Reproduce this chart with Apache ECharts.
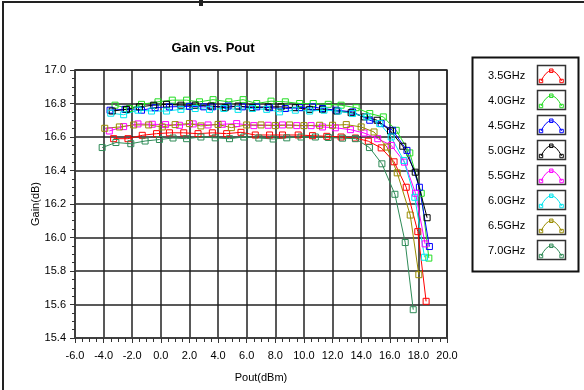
<!DOCTYPE html>
<html>
<head>
<meta charset="utf-8">
<script src="https://cdn.jsdelivr.net/npm/echarts/dist/echarts.min.js"></script>
<style>
html,body{margin:0;padding:0;background:#fff;}
#c{width:584px;height:390px;}
</style>
</head>
<body>
<div id="c"></div>
<script>
var seriesNames = ['3.5GHz','4.0GHz','4.5GHz','5.0GHz','5.5GHz','6.0GHz','6.5GHz','7.0GHz'];
var seriesColors = ['#ff0000','#22dd22','#0000ff','#000000','#ff00ff','#00e5ee','#9a8c00','#2e8b57'];
var xTicks = [-6,-4,-2,0,2,4,6,8,10,12,14,16,18,20];
var yTicks = [15.4,15.6,15.8,16.0,16.2,16.4,16.6,16.8,17.0];

var g35 = [[-3.3,16.59],[-2.3,16.59],[-1.3,16.61],[-0.3,16.62],[0.6,16.625],[1.6,16.625],[2.6,16.62],[3.6,16.625],[4.6,16.62],[5.6,16.628],[6.6,16.612],[7.6,16.612],[8.5,16.612],[9.6,16.612],[10.6,16.608],[11.6,16.604],[12.6,16.6],[13.6,16.594],[14.5,16.575],[15.4,16.535],[16.3,16.452],[17.15,16.30],[17.96,16.035],[18.54,15.619]];
var g40 = [[-3.2,16.79],[-2.2,16.77],[-1.35,16.795],[-0.2,16.81],[0.8,16.82],[1.8,16.82],[2.7,16.81],[3.65,16.823],[4.75,16.81],[5.75,16.823],[6.7,16.80],[7.7,16.814],[8.7,16.81],[9.7,16.80],[10.65,16.80],[11.7,16.795],[12.6,16.79],[13.65,16.775],[14.6,16.74],[15.55,16.72],[16.45,16.64],[17.4,16.505],[18.2,16.264],[18.73,15.877]];
var g45 = [[-3.55,16.76],[-2.5,16.765],[-1.35,16.76],[-0.4,16.775],[0.6,16.78],[2.0,16.783],[3.0,16.78],[3.6,16.78],[4.7,16.785],[5.7,16.78],[6.7,16.78],[7.6,16.775],[8.7,16.77],[9.7,16.775],[10.6,16.78],[11.3,16.77],[12.25,16.76],[13.4,16.75],[14.6,16.70],[15.4,16.68],[16.2,16.64],[17.2,16.52],[18.07,16.30],[18.77,15.946]];
var g50 = [[-3.4,16.755],[-2.4,16.765],[-1.5,16.78],[-0.5,16.79],[0.4,16.795],[1.4,16.79],[2.4,16.79],[3.5,16.785],[4.5,16.775],[5.4,16.785],[6.4,16.775],[7.5,16.78],[8.4,16.78],[9.4,16.775],[10.4,16.765],[11.3,16.765],[12.3,16.755],[13.3,16.745],[14.24,16.72],[15.12,16.70],[16.05,16.636],[16.91,16.545],[17.78,16.39],[18.61,16.118]];
var g55 = [[-3.6,16.636],[-2.6,16.662],[-1.6,16.678],[-0.6,16.676],[0.33,16.674],[1.3,16.67],[2.26,16.678],[3.3,16.672],[4.3,16.676],[5.3,16.68],[6.5,16.668],[7.5,16.67],[8.5,16.672],[9.5,16.668],[10.5,16.668],[11.3,16.66],[12.2,16.655],[13.25,16.644],[14.2,16.624],[15.16,16.59],[16.1,16.55],[17.03,16.45],[17.8,16.264],[18.47,15.962]];
var g60 = [[-3.5,16.742],[-2.6,16.733],[-1.6,16.76],[-0.65,16.755],[0.4,16.755],[1.4,16.765],[2.4,16.77],[3.4,16.765],[4.4,16.77],[5.4,16.765],[6.4,16.77],[7.4,16.765],[8.3,16.75],[9.4,16.76],[10.4,16.755],[11.4,16.76],[12.4,16.755],[13.4,16.74],[14.4,16.72],[15.3,16.68],[16.1,16.6],[16.98,16.46],[17.75,16.24],[18.43,15.882]];
var g65 = [[-3.92,16.652],[-2.9,16.66],[-1.9,16.672],[-0.85,16.672],[0.1,16.66],[1.0,16.674],[2.0,16.68],[2.8,16.666],[4.0,16.675],[4.93,16.656],[6.0,16.672],[7.0,16.672],[8.0,16.668],[9.0,16.672],[10.0,16.668],[11.1,16.67],[12.0,16.67],[12.96,16.674],[14.0,16.66],[14.9,16.63],[15.8,16.54],[16.52,16.386],[17.43,16.134],[18.03,15.778]];
var g70 = [[-4.1,16.537],[-3.14,16.567],[-2.1,16.56],[-1.1,16.576],[-0.1,16.585],[0.85,16.594],[1.8,16.59],[2.8,16.6],[3.8,16.595],[4.8,16.59],[5.8,16.6],[6.85,16.594],[7.85,16.588],[8.8,16.595],[9.8,16.6],[10.8,16.6],[11.7,16.597],[12.7,16.593],[13.6,16.59],[14.58,16.537],[15.45,16.44],[16.36,16.258],[17.08,15.97],[17.64,15.569]];
var seriesData = [g35,g40,g45,g50,g55,g60,g65,g70];

var iconPath = 'path://M0,13h4v4h-4z M2,15 Q8,3 14,3 Q20,3 26,15 M12,1h4v4h-4z M24,13h4v4h-4z';

var series = seriesNames.map(function(n,i){
  return {
    name: n, type: 'line', data: seriesData[i],
    symbol: 'rect', symbolSize: 6, showSymbol: true,
    lineStyle: {color: seriesColors[i], width: 1},
    itemStyle: {color: 'rgba(255,255,255,0)', borderColor: seriesColors[i], borderWidth: 1},
    emphasis: {disabled: true}, animation: false, z: 3
  };
});

var legendBoxes = seriesNames.map(function(n,i){
  return {type:'rect', shape:{x:537.5,y:65.5+25*i,width:28,height:19}, style:{fill:'none',stroke:'#333',lineWidth:1.5}, z:10};
});

var chart = echarts.init(document.getElementById('c'));
chart.setOption({
  backgroundColor: '#fff',
  animation: false,
  title: {text: 'Gain vs. Pout', left: 208, top: 37, textAlign: 'center',
    textStyle: {fontFamily: 'Liberation Sans, Arial', fontSize: 13, fontWeight: 'bold', color: '#000'}},
  grid: {left: 75, top: 70, right: 137, bottom: 52, show: true, borderColor: '#444', borderWidth: 1.5, backgroundColor: '#fff'},
  legend: {
    orient: 'vertical', left: 488, top: 68.5, padding: 0, align: 'right',
    itemWidth: 24, itemHeight: 17, itemGap: 10.3, icon: iconPath,
    itemStyle: {color: 'rgba(255,255,255,0)', borderWidth: 1},
    textStyle: {fontFamily: 'Liberation Sans, Arial', fontSize: 11, color: '#000', padding: [0, 9, 0, 0]},
    data: seriesNames, selectedMode: false
  },
  xAxis: {
    type: 'value', min: xTicks[0], max: xTicks[xTicks.length-1], interval: 2,
    name: 'Pout(dBm)', nameLocation: 'middle', nameGap: 34, nameMoveOverlap: false,
    nameTextStyle: {fontFamily: 'Liberation Sans, Arial', fontSize: 11, color: '#000'},
    axisLine: {onZero: false, lineStyle: {color: '#444', width: 1.5}},
    axisTick: {show: true, length: 5, lineStyle: {color: '#333', width: 1}},
    minorTick: {show: true, splitNumber: 4, length: 4, lineStyle: {color: '#333', width: 1}},
    axisLabel: {margin: 12, color: '#000', fontFamily: 'Liberation Sans, Arial', fontSize: 11,
      formatter: function(v){return v.toFixed(1);}},
    splitLine: {show: true, lineStyle: {color: '#222', width: 1.5}}
  },
  yAxis: {
    type: 'value', min: yTicks[0], max: yTicks[yTicks.length-1], interval: 0.2,
    name: 'Gain(dB)', nameLocation: 'middle', nameGap: 34, nameRotate: 90, nameMoveOverlap: false,
    nameTextStyle: {fontFamily: 'Liberation Sans, Arial', fontSize: 11, color: '#000'},
    axisLine: {show: true, onZero: false, lineStyle: {color: '#444', width: 1.5}},
    axisTick: {show: true, length: 5, lineStyle: {color: '#333', width: 1}},
    minorTick: {show: true, splitNumber: 4, length: 3, lineStyle: {color: '#333', width: 1}},
    axisLabel: {margin: 9, color: '#000', fontFamily: 'Liberation Sans, Arial', fontSize: 11,
      formatter: function(v){return v.toFixed(1);}},
    splitLine: {show: true, lineStyle: {color: '#222', width: 1.5}}
  },
  graphic: [
    {type:'rect', shape:{x:3,y:2,width:620,height:420}, style:{fill:'none',stroke:'#222',lineWidth:2}, z:10},
    {type:'rect', shape:{x:199,y:0,width:4,height:6}, style:{fill:'#222'}, z:10},
    {type:'rect', shape:{x:472.5,y:57.5,width:106,height:214}, style:{fill:'none',stroke:'#111',lineWidth:2}, z:10}
  ].concat(legendBoxes),
  series: series
});
</script>
</body>
</html>
